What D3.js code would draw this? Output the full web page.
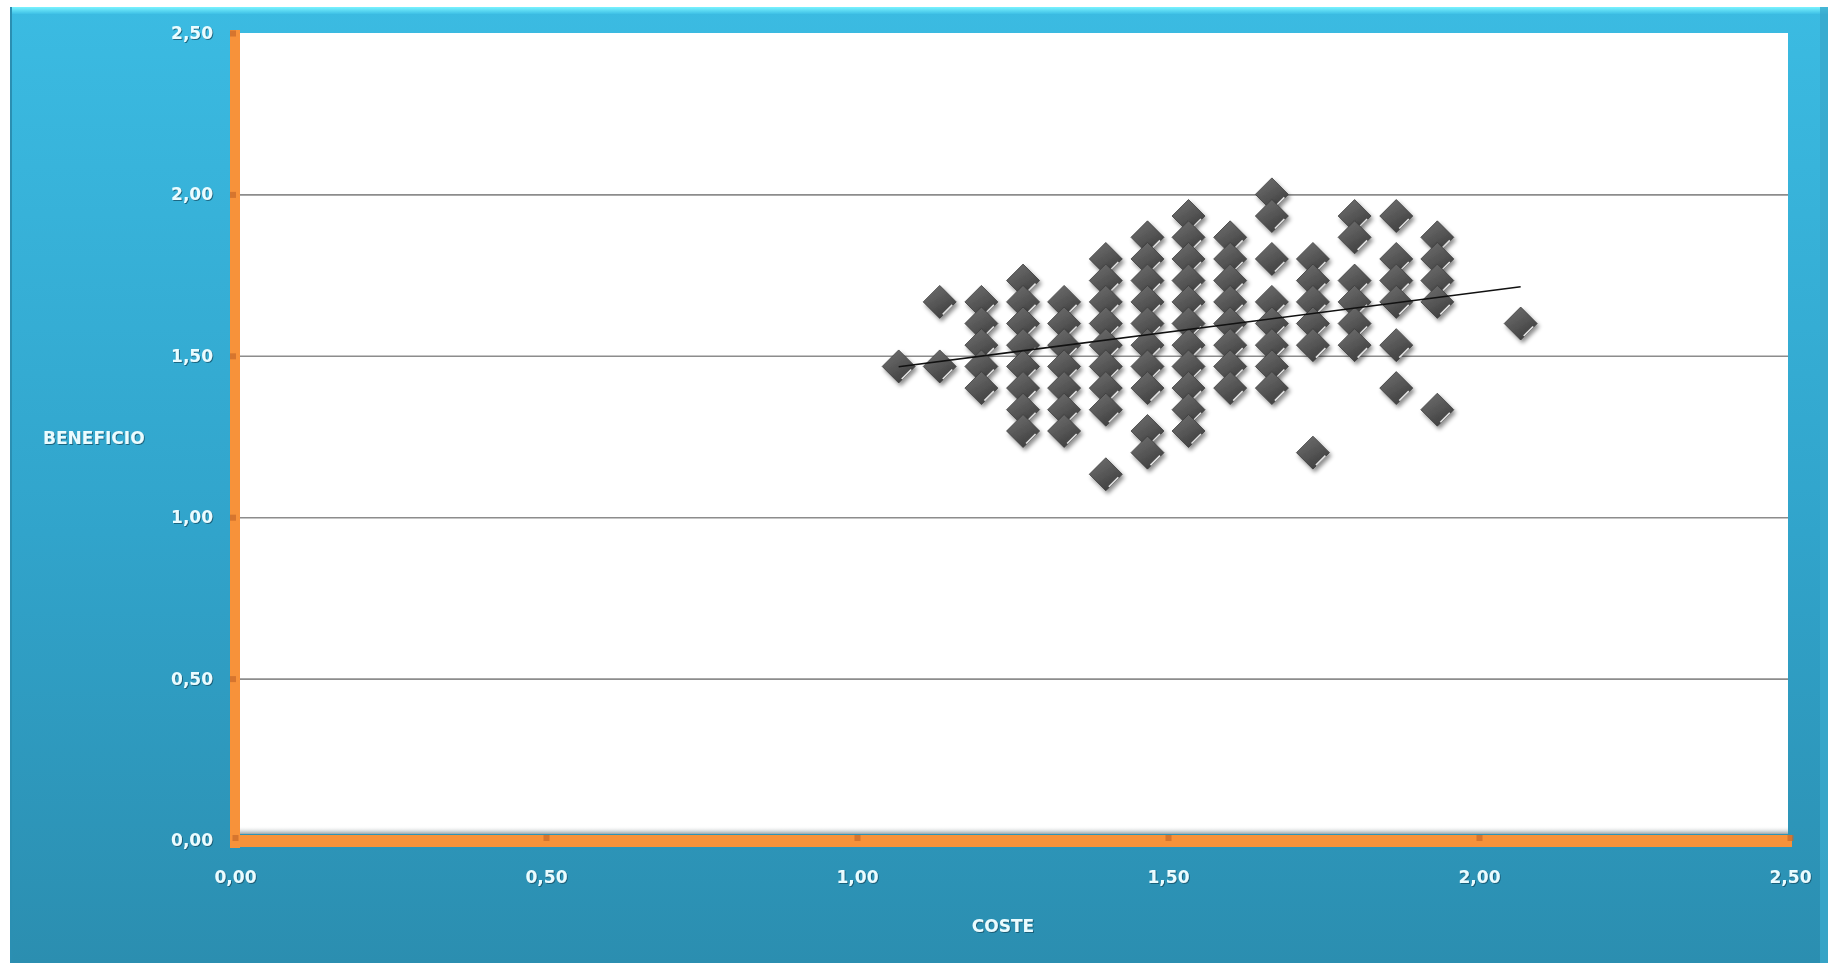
<!DOCTYPE html>
<html>
<head>
<meta charset="utf-8">
<script src="https://cdn.jsdelivr.net/npm/d3@7"></script>
<style>
  html, body { margin: 0; padding: 0; background: #ffffff; }
  svg { display: block; }
</style>
</head>
<body>
<svg id="chart" width="1832" height="966"></svg>
<script>
// ---------------- DATA ----------------
const xAxisTitle = "COSTE";
const yAxisTitle = "BENEFICIO";
const xTicks = [0, 0.5, 1.0, 1.5, 2.0, 2.5];
const yTicks = [0, 0.5, 1.0, 1.5, 2.0, 2.5];

// COSTE values of each point (one entry per point)
const coste = [
  1.067,
  1.133, 1.133,
  1.200, 1.200, 1.200, 1.200, 1.200,
  1.267, 1.267, 1.267, 1.267, 1.267, 1.267, 1.267, 1.267,
  1.333, 1.333, 1.333, 1.333, 1.333, 1.333, 1.333,
  1.400, 1.400, 1.400, 1.400, 1.400, 1.400, 1.400, 1.400, 1.400,
  1.467, 1.467, 1.467, 1.467, 1.467, 1.467, 1.467, 1.467, 1.467, 1.467,
  1.533, 1.533, 1.533, 1.533, 1.533, 1.533, 1.533, 1.533, 1.533, 1.533, 1.533,
  1.600, 1.600, 1.600, 1.600, 1.600, 1.600, 1.600, 1.600,
  1.667, 1.667, 1.667, 1.667, 1.667, 1.667, 1.667, 1.667,
  1.733, 1.733, 1.733, 1.733, 1.733, 1.733,
  1.800, 1.800, 1.800, 1.800, 1.800, 1.800,
  1.867, 1.867, 1.867, 1.867, 1.867, 1.867,
  1.933, 1.933, 1.933, 1.933, 1.933,
  2.067
];
// BENEFICIO values of each point (same order)
const beneficio = [
  1.467,
  1.667, 1.467,
  1.667, 1.600, 1.533, 1.467, 1.400,
  1.733, 1.667, 1.600, 1.533, 1.467, 1.400, 1.333, 1.267,
  1.667, 1.600, 1.533, 1.467, 1.400, 1.333, 1.267,
  1.800, 1.733, 1.667, 1.600, 1.533, 1.467, 1.400, 1.333, 1.133,
  1.867, 1.800, 1.733, 1.667, 1.600, 1.533, 1.467, 1.400, 1.267, 1.200,
  1.933, 1.867, 1.800, 1.733, 1.667, 1.600, 1.533, 1.467, 1.400, 1.333, 1.267,
  1.867, 1.800, 1.733, 1.667, 1.600, 1.533, 1.467, 1.400,
  2.000, 1.933, 1.800, 1.667, 1.600, 1.533, 1.467, 1.400,
  1.800, 1.733, 1.667, 1.600, 1.533, 1.200,
  1.933, 1.867, 1.733, 1.667, 1.600, 1.533,
  1.933, 1.800, 1.733, 1.667, 1.533, 1.400,
  1.867, 1.800, 1.733, 1.667, 1.333,
  1.600
];
// Linear trend line (endpoints)
const trendCoste = [1.067, 2.067];
const trendBeneficio = [1.466, 1.714];

// ---------------- DRAWING ----------------
const svg = d3.select("#chart");
const defs = svg.append("defs");

const W = 1832, H = 966;
const plot = { left: 240, right: 1788, top: 33, bottom: 834 };

const x = d3.scaleLinear().domain([0, 2.5]).range([235, 1790]);
const y = d3.scaleLinear().domain([0, 2.5]).range([840, 33]);

const locale = d3.formatLocale({ decimal: ",", thousands: ".", grouping: [3], currency: ["", "€"] });
const fmt = locale.format(".2f");

// gradients & filters
const bg = defs.append("linearGradient").attr("id", "bgGrad").attr("x1", 0).attr("y1", 0).attr("x2", 0).attr("y2", 1);
bg.append("stop").attr("offset", "0%").attr("stop-color", "#3bbbe2");
bg.append("stop").attr("offset", "55%").attr("stop-color", "#31a4cb");
bg.append("stop").attr("offset", "100%").attr("stop-color", "#2b8eb0");

const topBevel = defs.append("linearGradient").attr("id", "topBevel").attr("x1", 0).attr("y1", 0).attr("x2", 0).attr("y2", 1);
topBevel.append("stop").attr("offset", "0%").attr("stop-color", "#7af3ff");
topBevel.append("stop").attr("offset", "100%").attr("stop-color", "#3ec0e6");

const mk = defs.append("linearGradient").attr("id", "mkGrad").attr("x1", 0.2).attr("y1", 0).attr("x2", 0.8).attr("y2", 1);
mk.append("stop").attr("offset", "0%").attr("stop-color", "#6e6e6e");
mk.append("stop").attr("offset", "50%").attr("stop-color", "#555555");
mk.append("stop").attr("offset", "100%").attr("stop-color", "#3a3a3a");

const shadow = defs.append("filter").attr("id", "mkShadow").attr("x", "-50%").attr("y", "-50%").attr("width", "200%").attr("height", "200%");
shadow.append("feDropShadow").attr("dx", 2).attr("dy", 3).attr("stdDeviation", 2.2)
  .attr("flood-color", "#000").attr("flood-opacity", 0.45);

const txtShadow = defs.append("filter").attr("id", "txtShadow").attr("x", "-20%").attr("y", "-40%").attr("width", "140%").attr("height", "180%");
txtShadow.append("feDropShadow").attr("dx", 1).attr("dy", 1).attr("stdDeviation", 0.6)
  .attr("flood-color", "#0d4a60").attr("flood-opacity", 0.7);

const plotShadow = defs.append("linearGradient").attr("id", "plotShadow").attr("x1", 0).attr("y1", 0).attr("x2", 0).attr("y2", 1);
plotShadow.append("stop").attr("offset", "0%").attr("stop-color", "#ffffff").attr("stop-opacity", 0);
plotShadow.append("stop").attr("offset", "100%").attr("stop-color", "#9aa4a8").attr("stop-opacity", 1);

// outer frame
svg.append("rect").attr("x", 0).attr("y", 0).attr("width", W).attr("height", H).attr("fill", "#ffffff");
svg.append("rect").attr("x", 10).attr("y", 7).attr("width", 1818).attr("height", 956).attr("fill", "url(#bgGrad)");
svg.append("rect").attr("x", 10).attr("y", 7).attr("width", 1818).attr("height", 7).attr("fill", "url(#topBevel)");
svg.append("rect").attr("x", 1820).attr("y", 7).attr("width", 8).attr("height", 956).attr("fill", "#3aa9cc").attr("opacity", 0.8);
svg.append("rect").attr("x", 10).attr("y", 7).attr("width", 2).attr("height", 956).attr("fill", "#2b8fb2");

// plot area
svg.append("rect").attr("x", plot.left).attr("y", plot.top)
  .attr("width", plot.right - plot.left).attr("height", plot.bottom - plot.top).attr("fill", "#ffffff");
svg.append("rect").attr("x", plot.left).attr("y", plot.bottom - 8)
  .attr("width", plot.right - plot.left).attr("height", 8).attr("fill", "url(#plotShadow)");

// horizontal gridlines
const gridVals = yTicks.filter(v => v > 0 && v < 2.5);
const grid = svg.append("g").attr("class", "grid")
  .attr("transform", `translate(${plot.left},0)`)
  .call(d3.axisLeft(y).tickValues(gridVals).tickSize(-(plot.right - plot.left)).tickFormat(""));
grid.select(".domain").remove();
grid.selectAll(".tick line").attr("stroke", "#8c8c8c").attr("stroke-width", 1.6);

// Y axis (orange line + labels)
const yAxis = svg.append("g").attr("transform", "translate(235,0)")
  .call(d3.axisLeft(y).tickValues(yTicks).tickFormat(fmt).tickSize(0).tickPadding(22).tickSizeOuter(0));
yAxis.select(".domain").attr("stroke", "#f7923a").attr("stroke-width", 10)
  .attr("d", `M0,${y(2.5) - 3}V${y(0) + 8}`);
yAxis.selectAll(".tick text")
  .attr("fill", "#eafcff").attr("font-family", "'DejaVu Sans', Verdana, sans-serif")
  .attr("font-size", 17).attr("font-weight", "bold").attr("filter", "url(#txtShadow)");
yAxis.selectAll(".tick").append("rect")
  .attr("x", -5).attr("y", -3).attr("width", 6).attr("height", 6).attr("fill", "#c8692a").attr("opacity", 0.7);

// X axis (orange line + labels)
const xAxis = svg.append("g").attr("transform", "translate(0,841)")
  .call(d3.axisBottom(x).tickValues(xTicks).tickFormat(fmt).tickSize(0).tickPadding(30).tickSizeOuter(0));
xAxis.select(".domain").attr("stroke", "#f7923a").attr("stroke-width", 12)
  .attr("d", `M${x(0) - 5},0H${x(2.5) + 2}`);
xAxis.selectAll(".tick text")
  .attr("fill", "#eafcff").attr("font-family", "'DejaVu Sans', Verdana, sans-serif")
  .attr("font-size", 17).attr("font-weight", "bold").attr("filter", "url(#txtShadow)");
xAxis.selectAll(".tick").append("rect")
  .attr("x", -3).attr("y", -6).attr("width", 6).attr("height", 6).attr("fill", "#c8692a").attr("opacity", 0.7);

// axis titles
svg.append("text").attr("x", 43).attr("y", 438).attr("dy", "0.35em")
  .attr("fill", "#eafcff").attr("font-family", "'DejaVu Sans', Verdana, sans-serif")
  .attr("font-size", 17).attr("font-weight", "bold").attr("filter", "url(#txtShadow)")
  .text(yAxisTitle);
svg.append("text").attr("x", 1003).attr("y", 926).attr("dy", "0.35em").attr("text-anchor", "middle")
  .attr("fill", "#eafcff").attr("font-family", "'DejaVu Sans', Verdana, sans-serif")
  .attr("font-size", 17).attr("font-weight", "bold").attr("filter", "url(#txtShadow)")
  .text(xAxisTitle);

// points
const pts = coste.map((c, i) => ({ c, b: beneficio[i] }))
  .sort((a, b) => d3.descending(a.b, b.b) || d3.ascending(a.c, b.c));
const r = 16.5;
const diamond = `M0,${-r}L${r},0L0,${r}L${-r},0Z`;
const g = svg.append("g").attr("class", "points");
const pg = g.selectAll("g.pt").data(pts).join("g").attr("class", "pt")
  .attr("transform", d => `translate(${x(d.c)},${y(d.b)})`);
pg.append("path").attr("d", diamond).attr("fill", "url(#mkGrad)")
  .attr("stroke", "#3c3c3c").attr("stroke-width", 0.8).attr("filter", "url(#mkShadow)");
pg.append("path").attr("d", `M${r - 4},3L3,${r - 4}`)
  .attr("stroke", "#ffffff").attr("stroke-width", 1.6).attr("stroke-opacity", 0.85).attr("fill", "none");

// trend line
svg.append("line")
  .attr("x1", x(trendCoste[0])).attr("y1", y(trendBeneficio[0]))
  .attr("x2", x(trendCoste[1])).attr("y2", y(trendBeneficio[1]))
  .attr("stroke", "#111111").attr("stroke-width", 1.6);
</script>
</body>
</html>
